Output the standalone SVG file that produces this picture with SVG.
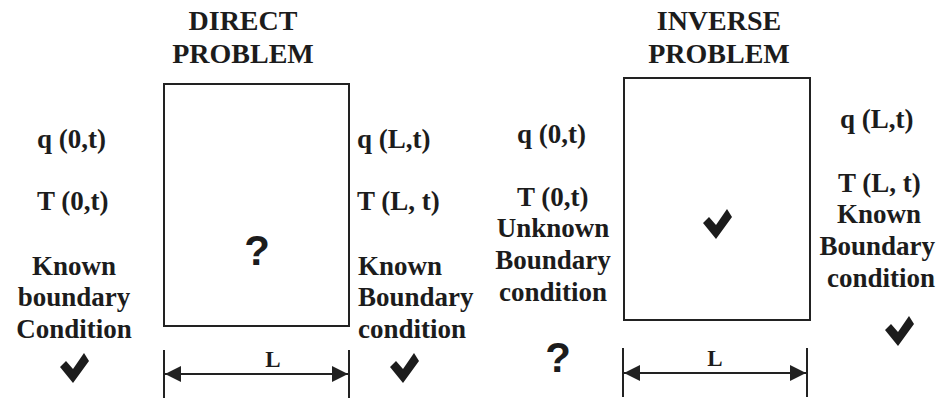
<svg xmlns="http://www.w3.org/2000/svg" width="939" height="402" viewBox="0 0 939 402">
<style>
text{font-family:"Liberation Serif","Times New Roman",serif;font-weight:bold;fill:#1c1c1c}
.t{font-size:28px;text-anchor:middle}
.l{font-size:27px}
.c{font-size:27px;text-anchor:middle}
.dim{font-size:23px;text-anchor:middle}
.q{font-family:"Liberation Sans",Arial,sans-serif;font-size:42px;text-anchor:middle}
.box{fill:#fff;stroke:#222;stroke-width:2}
.tick{stroke:#222;stroke-width:2}
.arr{stroke:#222;stroke-width:2;marker-start:url(#ah);marker-end:url(#ah)}
.chk{fill:#1c1c1c}
</style>
<defs>
<marker id="ah" viewBox="0 0 10 10" refX="10" refY="5" markerWidth="9" markerHeight="8" markerUnits="strokeWidth" orient="auto-start-reverse">
<path d="M0,0 L10,5 L0,10 Z" fill="#222"/>
</marker>
<path id="check" d="M-14,-4 L-8,-10 L-1,-2 L10,-18 L15,-10 L-1,12 Z"/>
</defs>
<rect width="939" height="402" fill="#fff"/>

<g id="direct">
<g id="direct-title">
<text class="t" x="243" y="30">DIRECT</text>
<text class="t" x="243" y="63">PROBLEM</text>
</g>
<g id="direct-box">
<rect class="box" x="164" y="84" width="185" height="242"/>
<text class="q" x="257" y="265">?</text>
</g>
<g id="direct-left">
<text class="l" x="37" y="148">q (0,t)</text>
<text class="l" x="37" y="210">T (0,t)</text>
<text class="c" x="74" y="275">Known</text>
<text class="c" x="74" y="306">boundary</text>
<text class="c" x="74" y="338">Condition</text>
<use href="#check" class="chk" x="74" y="371"/>
</g>
<g id="direct-right">
<text class="l" x="357" y="148">q (L,t)</text>
<text class="l" x="357" y="210">T (L, t)</text>
<text class="l" x="358" y="275">Known</text>
<text class="l" x="358" y="306">Boundary</text>
<text class="l" x="358" y="338">condition</text>
<use href="#check" class="chk" x="404" y="371"/>
</g>
</g>

<g id="inverse">
<g id="inverse-title">
<text class="t" x="719" y="30">INVERSE</text>
<text class="t" x="719" y="63">PROBLEM</text>
</g>
<g id="inverse-box">
<rect class="box" x="624" y="78" width="186" height="242"/>
<use href="#check" class="chk" x="717" y="227"/>
</g>
<g id="inverse-left">
<text class="l" x="517" y="143">q (0,t)</text>
<text class="l" x="517" y="206">T (0,t)</text>
<text class="c" x="553" y="237">Unknown</text>
<text class="c" x="553" y="269">Boundary</text>
<text class="c" x="553" y="301">condition</text>
<text class="q" x="558" y="372">?</text>
</g>
<g id="inverse-right">
<text class="l" x="840" y="128">q (L,t)</text>
<text class="l" x="838" y="192">T (L, t)</text>
<text class="c" x="879" y="223">Known</text>
<text class="l" x="935" y="255" text-anchor="end">Boundary</text>
<text class="c" x="881" y="287">condition</text>
<use href="#check" class="chk" x="899" y="334"/>
</g>
</g>

<g id="connectors">
<g id="dim-direct">
<line class="tick" x1="164" y1="350" x2="164" y2="398"/>
<line class="tick" x1="349" y1="350" x2="349" y2="398"/>
<line class="arr" x1="165" y1="374" x2="348" y2="374"/>
<text class="dim" x="273" y="367">L</text>
</g>
<g id="dim-inverse">
<line class="tick" x1="623" y1="348" x2="623" y2="397"/>
<line class="tick" x1="807" y1="348" x2="807" y2="397"/>
<line class="arr" x1="624" y1="373" x2="806" y2="373"/>
<text class="dim" x="715" y="366">L</text>
</g>
</g>
</svg>
